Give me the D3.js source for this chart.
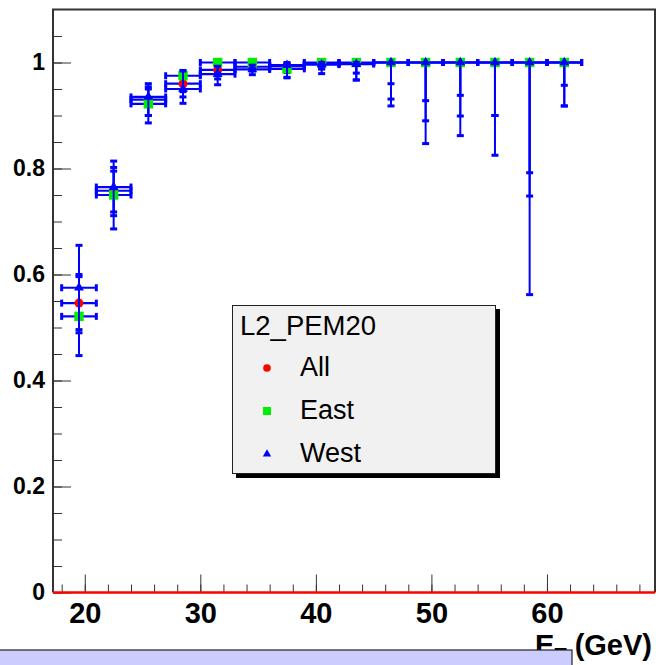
<!DOCTYPE html>
<html>
<head>
<meta charset="utf-8">
<script src="https://cdn.jsdelivr.net/npm/d3@7"></script>
<style>
  body { margin: 0; background: #fff; }
  svg { display: block; font-family: "Liberation Sans", Arial, Helvetica, sans-serif; }
</style>
</head>
<body>
<div id="chart"></div>
<script>
// bin centres (GeV) and half widths
var binCenters = [19.5, 22.5, 25.5, 28.5, 31.5, 34.5, 37.5, 40.5, 43.5, 46.5, 49.5, 52.5, 55.5, 58.5, 61.5];
var binHalf    = [1.5, 1.5, 1.5, 1.5, 1.5, 1.5, 1.5, 1.5, 1.5, 1.5, 1.5, 1.5, 1.5, 1.5, 1.5];

// efficiency, all
var allEff   = [0.546, 0.758, 0.930, 0.960, 0.986, 0.992, 0.993, 0.998, 0.999, 1.0, 1.0, 1.0, 1.0, 1.0, 1.0];
var allErrLo = [0.050, 0.047, 0.030, 0.025, 0.017, 0.008, 0.012, 0.010, 0.019, 0.040, 0.072, 0.062, 0.100, 0.208, 0.043];
var allErrHi = [0.050, 0.037, 0.020, 0.015, 0.010, 0.005, 0.005, 0.002, 0.001, 0, 0, 0, 0, 0, 0];

// efficiency, east
var eastEff   = [0.521, 0.750, 0.922, 0.975, 1.0, 1.0, 0.988, 1.0, 1.0, 1.0, 1.0, 1.0, 1.0, 1.0, 1.0];
var eastErrLo = [0.074, 0.064, 0.036, 0.030, 0.020, 0.008, 0.017, 0.012, 0.033, 0.069, 0.110, 0.101, 0.100, 0.252, 0.082];
var eastErrHi = [0.079, 0.052, 0.032, 0.010, 0, 0, 0.008, 0, 0, 0, 0, 0, 0, 0, 0];

// efficiency, west
var westEff   = [0.575, 0.765, 0.935, 0.950, 0.978, 0.987, 0.995, 0.996, 0.997, 1.0, 1.0, 1.0, 1.0, 1.0, 1.0];
var westErrLo = [0.085, 0.047, 0.035, 0.027, 0.020, 0.010, 0.023, 0.017, 0.030, 0.082, 0.153, 0.138, 0.175, 0.438, 0.082];
var westErrHi = [0.080, 0.049, 0.025, 0.034, 0.015, 0.008, 0.005, 0.004, 0.003, 0, 0, 0, 0, 0, 0];

var xMajorTicks = [20, 30, 40, 50, 60];
var yMajorTicks = [0, 0.2, 0.4, 0.6, 0.8, 1];
var legendTitle = "L2_PEM20";
var seriesNames = ["All", "East", "West"];

var W = 656, H = 665;
var svg = d3.select("#chart").append("svg")
  .attr("width", W)
  .attr("height", H);

var x = d3.scaleLinear().domain([17.25, 69.35]).range([53, 655]);
var y = d3.scaleLinear().domain([0, 1.1]).range([592.5, 9.5]);

// minor ticks
svg.append("g")
  .attr("transform", "translate(53,0)")
  .call(d3.axisLeft(y).tickValues(d3.range(0, 1.1, 0.05)).tickSize(-9).tickFormat(""))
  .call(function(g){ g.select(".domain").remove(); g.selectAll("line").attr("stroke", "#333"); });
svg.append("g")
  .attr("transform", "translate(0,592.5)")
  .call(d3.axisBottom(x).tickValues(d3.range(18, 70, 2)).tickSize(-8).tickFormat(""))
  .call(function(g){ g.select(".domain").remove(); g.selectAll("line").attr("stroke", "#333"); });

// major ticks + labels
svg.append("g")
  .attr("transform", "translate(53,0)")
  .call(d3.axisLeft(y).tickValues(yMajorTicks).tickSize(-18).tickPadding(8).tickFormat(d3.format("~g")))
  .call(function(g){
    g.select(".domain").remove();
    g.selectAll("line").attr("stroke", "#333");
    g.selectAll("text").attr("fill", "#000").style("font-size", "23px").style("font-weight", "bold")
      .attr("font-family", null);
  });
svg.append("g")
  .attr("transform", "translate(0,592.5)")
  .call(d3.axisBottom(x).tickValues(xMajorTicks).tickSize(-18).tickPadding(10).tickFormat(d3.format("d")))
  .call(function(g){
    g.select(".domain").remove();
    g.selectAll("line").attr("stroke", "#333");
    g.selectAll("text").attr("fill", "#000").style("font-size", "29px").style("font-weight", "bold")
      .attr("font-family", null);
  });

// frame
svg.append("path")
  .attr("d", "M53,592.5 V9.5 H655 V592.5")
  .attr("fill", "none")
  .attr("stroke", "#333")
  .attr("stroke-width", 2);

// zero line
svg.append("line")
  .attr("x1", x.range()[0]).attr("x2", x.range()[1])
  .attr("y1", y(0)).attr("y2", y(0))
  .attr("stroke", "#ff0000")
  .attr("stroke-width", 2.5);

var series = [
  {name: seriesNames[0], eff: allEff,  lo: allErrLo,  hi: allErrHi,  color: "#ff0000", shape: "circle"},
  {name: seriesNames[1], eff: eastEff, lo: eastErrLo, hi: eastErrHi, color: "#00ee00", shape: "square"},
  {name: seriesNames[2], eff: westEff, lo: westErrLo, hi: westErrHi, color: "#0000ff", shape: "triangle"}
];

function drawMarker(g, shape, color, cx, cy, s) {
  if (shape == "circle") {
    g.append("circle").attr("cx", cx).attr("cy", cy).attr("r", 4.5 * s).attr("fill", color);
  } else if (shape == "square") {
    g.append("rect").attr("x", cx - 4.7 * s).attr("y", cy - 4.7 * s)
      .attr("width", 9.4 * s).attr("height", 9.4 * s).attr("fill", color);
  } else {
    g.append("path").attr("d", d3.symbol().type(d3.symbolTriangle).size(42 * s * s)())
      .attr("transform", "translate(" + cx + "," + cy + ")").attr("fill", color);
  }
}

var errColor = "#0000ff";
series.forEach(function(s) {
  var g = svg.append("g").attr("class", "graph");
  binCenters.forEach(function(c, i) {
    var cx = x(c), cy = y(s.eff[i]);
    var xl = x(c - binHalf[i]), xr = x(c + binHalf[i]);
    var yt = y(s.eff[i] + s.hi[i]), yb = y(s.eff[i] - s.lo[i]);
    // horizontal bar
    g.append("line").attr("x1", xl).attr("x2", xr).attr("y1", cy).attr("y2", cy)
      .attr("stroke", errColor).attr("stroke-width", 2.2);
    [xl, xr].forEach(function(ex) {
      g.append("rect").attr("x", ex - 1.5).attr("y", cy - 3.5).attr("width", 3).attr("height", 7)
        .attr("fill", errColor);
    });
    // vertical bar
    g.append("line").attr("x1", cx).attr("x2", cx).attr("y1", yt).attr("y2", yb)
      .attr("stroke", errColor).attr("stroke-width", 2);
    if (s.hi[i] > 0) {
      g.append("rect").attr("x", cx - 3.5).attr("y", yt - 1.5).attr("width", 7).attr("height", 3)
        .attr("fill", errColor);
    }
    if (s.lo[i] > 0) {
      g.append("rect").attr("x", cx - 3.5).attr("y", yb - 1.5).attr("width", 7).attr("height", 3)
        .attr("fill", errColor);
    }
    drawMarker(g, s.shape, s.color, cx, cy, 1);
  });
});

// legend
var lg = svg.append("g").attr("class", "legend");
lg.append("rect").attr("x", 236).attr("y", 309).attr("width", 264).attr("height", 169).attr("fill", "#000");
lg.append("rect").attr("x", 232.5).attr("y", 305.5).attr("width", 263).attr("height", 168)
  .attr("fill", "#f1f1f1").attr("stroke", "#222").attr("stroke-width", 1);
lg.append("text").attr("x", 240).attr("y", 335).style("font-size", "27.5px").text(legendTitle);
series.forEach(function(s, i) {
  drawMarker(lg, s.shape, s.color, 267, 368 + i * 43, 0.85);
  lg.append("text").attr("x", 300).attr("y", 376 + i * 43).style("font-size", "27px").text(s.name);
});

// x title (partly hidden under the status bar)
var xt = svg.append("text")
  .attr("x", 652).attr("y", 655)
  .attr("text-anchor", "end")
  .style("font-size", "29px")
  .style("font-weight", "bold");
xt.append("tspan").text("E");
xt.append("tspan").attr("dy", 7).style("font-size", "20px").text("T");
xt.append("tspan").attr("dy", -7).text(" (GeV)");

// status bar at the bottom
svg.append("rect")
  .attr("x", -2).attr("y", 650).attr("width", 574).attr("height", 20)
  .attr("fill", "#ccccff").attr("stroke", "#222").attr("stroke-width", 1.2);
</script>
</body>
</html>
